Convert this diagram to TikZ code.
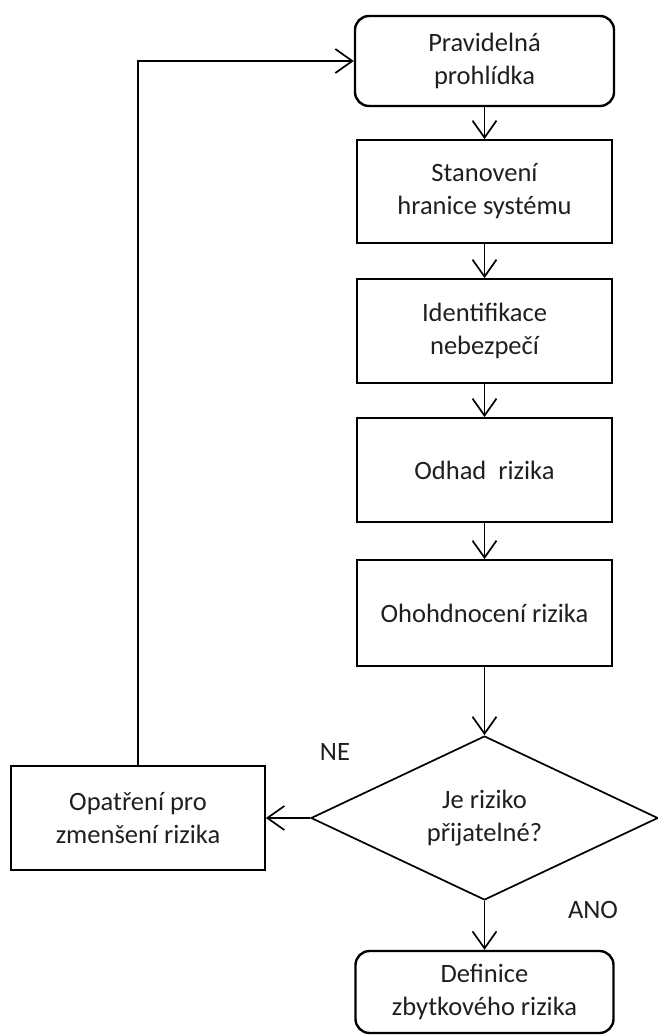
\documentclass[tikz,border=0pt]{standalone}
\usepackage{fontspec}
\setmainfont{Carlito}
\usetikzlibrary{arrows.meta,shapes.geometric}
\begin{document}
\begin{tikzpicture}[x=1pt,y=-1pt,
  txt/.style={font=\fontsize{26.5}{33}\selectfont, align=center, text=black!88},
  stepbox/.style={txt, draw, line width=1.8pt, minimum width=255pt, inner sep=0pt},
  roundbox/.style={stepbox, rounded corners=14pt, line width=2.4pt},
  decision/.style={txt, draw, diamond, line width=1.7pt, aspect=2.134, minimum width=347pt, minimum height=164pt, inner sep=0pt},
  conn/.style={line width=1.7pt, -{Straight Barb[length=17pt,width=24pt,line width=1.7pt]}},
  lbl/.style={txt}
]
\useasboundingbox (0,0) rectangle (658,1036);
\node[roundbox, minimum width=259pt, minimum height=90pt] (top) at (484.5,61) {Pravidelná\\prohlídka};
\node[stepbox, minimum height=103pt] (b2) at (484.5,191.5) {Stanovení\\hranice systému};
\node[stepbox, minimum height=104pt] (b3) at (484.5,331) {Identifikace\\nebezpečí};
\node[stepbox, minimum height=104pt] (b4) at (484.5,470) {Odhad\ \ rizika};
\node[stepbox, minimum height=106pt] (b5) at (484.5,613) {Ohohdnocení rizika};
\node[decision] (d) at (484.5,818) {Je riziko\\přijatelné?};
\node[stepbox, minimum width=254pt, minimum height=104pt] (left) at (138,818) {Opatření pro\\zmenšení rizika};
\node[roundbox, minimum width=258pt, minimum height=82pt] (bot) at (484.5,992) {Definice\\zbytkového rizika};
\node[lbl] (ne) at (335,752) {NE};
\node[lbl] (ano) at (593,910) {ANO};
\draw[conn] (top.south) -- (b2.north);
\draw[conn] (b2.south) -- (b3.north);
\draw[conn] (b3.south) -- (b4.north);
\draw[conn] (b4.south) -- (b5.north);
\draw[conn] (b5.south) -- (d.north);
\draw[conn] (d.west) -- (left.east);
\draw[conn] (d.south) -- (bot.north);
\draw[conn] (left.north) |- (top.west);
\end{tikzpicture}
\end{document}
